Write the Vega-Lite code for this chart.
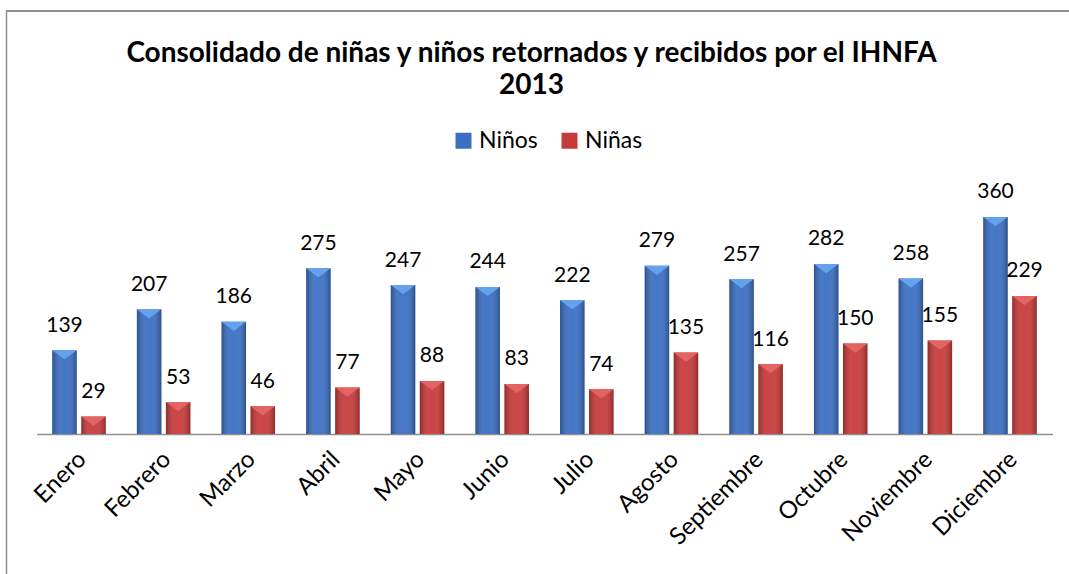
{
  "$schema": "https://vega.github.io/schema/vega-lite/v6.json",
  "width": 1063,
  "height": 563,
  "autosize": {"type": "none"},
  "padding": {"left": 6, "top": 11, "right": 0, "bottom": 0},
  "background": "white",
  "config": {
    "view": {"stroke": null},
    "font": "Lato",
    "text": {"font": "Lato"}
  },
  "title": {
    "text": ["Consolidado de niñas y niños retornados y recibidos por el IHNFA", "2013"],
    "font": "Lato",
    "fontSize": 28,
    "fontWeight": "bold",
    "color": "black",
    "lineHeight": 32,
    "offset": -90,
    "dx": -6,
    "anchor": "middle"
  },
  "data": {
    "values": [
      {"mes": "Enero", "serie": "Niños", "valor": 139},
      {"mes": "Enero", "serie": "Niñas", "valor": 29},
      {"mes": "Febrero", "serie": "Niños", "valor": 207},
      {"mes": "Febrero", "serie": "Niñas", "valor": 53},
      {"mes": "Marzo", "serie": "Niños", "valor": 186},
      {"mes": "Marzo", "serie": "Niñas", "valor": 46},
      {"mes": "Abril", "serie": "Niños", "valor": 275},
      {"mes": "Abril", "serie": "Niñas", "valor": 77},
      {"mes": "Mayo", "serie": "Niños", "valor": 247},
      {"mes": "Mayo", "serie": "Niñas", "valor": 88},
      {"mes": "Junio", "serie": "Niños", "valor": 244},
      {"mes": "Junio", "serie": "Niñas", "valor": 83},
      {"mes": "Julio", "serie": "Niños", "valor": 222},
      {"mes": "Julio", "serie": "Niñas", "valor": 74},
      {"mes": "Agosto", "serie": "Niños", "valor": 279},
      {"mes": "Agosto", "serie": "Niñas", "valor": 135},
      {"mes": "Septiembre", "serie": "Niños", "valor": 257},
      {"mes": "Septiembre", "serie": "Niñas", "valor": 116},
      {"mes": "Octubre", "serie": "Niños", "valor": 282},
      {"mes": "Octubre", "serie": "Niñas", "valor": 150},
      {"mes": "Noviembre", "serie": "Niños", "valor": 258},
      {"mes": "Noviembre", "serie": "Niñas", "valor": 155},
      {"mes": "Diciembre", "serie": "Niños", "valor": 360},
      {"mes": "Diciembre", "serie": "Niñas", "valor": 229}
    ]
  },
  "layer": [
    {
      "mark": {"type": "rule", "color": "#8f8f8f", "strokeWidth": 1.5},
      "encoding": {
        "y": {
          "datum": 701.7,
          "type": "quantitative",
          "scale": {"domain": [-232.3, 701.7], "nice": false, "zero": false},
          "axis": {
            "title": null,
            "labels": false,
            "ticks": false,
            "grid": false,
            "domain": true,
            "domainColor": "#8f8f8f",
            "domainWidth": 1.5
          }
        }
      }
    },
    {
      "encoding": {
        "x": {
          "field": "mes",
          "type": "nominal",
          "sort": null,
          "scale": {"range": [30.7, 1046.3], "paddingInner": 0, "paddingOuter": 0},
          "axis": {
            "orient": "bottom",
            "offset": -140,
            "title": null,
            "ticks": false,
            "grid": false,
            "domain": true,
            "domainColor": "#8f8f8f",
            "domainWidth": 1.5,
            "labelAngle": -45,
            "labelFont": "Lato",
            "labelFontSize": 24,
            "labelColor": "black",
            "labelPadding": 13,
            "labelOffset": -5
          }
        },
        "xOffset": {
          "field": "serie",
          "type": "nominal",
          "sort": ["Niños", "Niñas"],
          "scale": {"paddingInner": 0.155, "paddingOuter": 0.536}
        },
        "y": {
          "field": "valor",
          "type": "quantitative",
          "scale": {"domain": [-232.3, 701.7], "nice": false, "zero": false}
        }
      },
      "layer": [
        {
          "mark": {"type": "bar"},
          "encoding": {
            "y2": {"datum": 0},
            "color": {
              "field": "serie",
              "type": "nominal",
              "sort": ["Niños", "Niñas"],
              "scale": {"domain": ["Niños", "Niñas"], "range": ["#3B6FC3", "#C83A3A"]},
              "legend": {
                "title": null,
                "orient": "none",
                "legendX": 446,
                "legendY": 118,
                "direction": "horizontal",
                "columns": 2,
                "columnPadding": 20,
                "symbolType": "square",
                "symbolSize": 256,
                "symbolStrokeWidth": 0,
                "labelFont": "Lato",
                "labelFontSize": 23,
                "labelColor": "black",
                "labelOffset": 4,
                "padding": 0
              }
            }
          }
        },
        {
          "mark": {
            "type": "bar",
            "fill": {
              "gradient": "linear",
              "x1": 0, "y1": 0, "x2": 1, "y2": 0,
              "stops": [
                {"offset": 0, "color": "rgba(0,0,0,0.28)"},
                {"offset": 0.4, "color": "rgba(255,255,255,0.06)"},
                {"offset": 0.6, "color": "rgba(255,255,255,0.06)"},
                {"offset": 1, "color": "rgba(0,0,0,0.28)"}
              ]
            }
          },
          "encoding": {"y2": {"datum": 0}}
        },
        {
          "mark": {
            "type": "point",
            "shape": "M-1,0L1,0L0,0.75Z",
            "filled": true,
            "opacity": 1,
            "size": 600,
            "strokeWidth": 0
          },
          "encoding": {
            "fill": {
              "field": "serie",
              "type": "nominal",
              "scale": {"domain": ["Niños", "Niñas"], "range": ["#64A2EE", "#E46464"]},
              "legend": null
            }
          }
        },
        {
          "mark": {
            "type": "text",
            "baseline": "alphabetic",
            "align": "center",
            "dy": -18.5,
            "font": "Lato",
            "fontSize": 21,
            "color": "black"
          },
          "encoding": {"text": {"field": "valor", "type": "quantitative"}}
        }
      ]
    }
  ]
}
